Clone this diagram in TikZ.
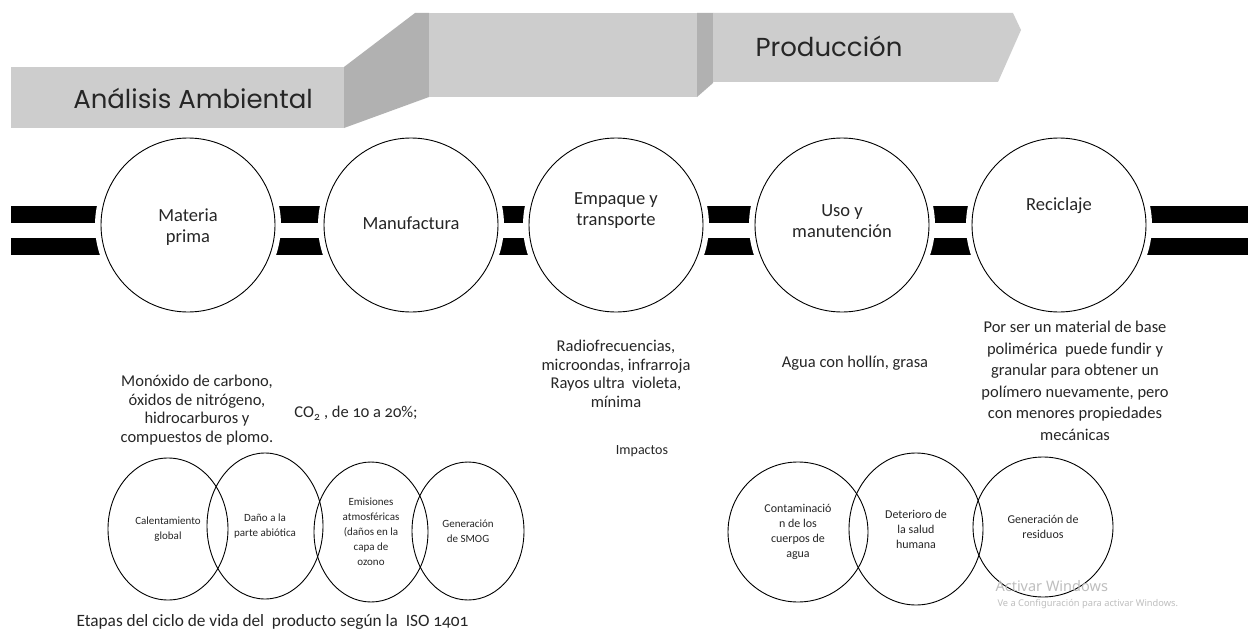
\documentclass[tikz,border=0pt]{standalone}
\usepackage{fontspec}
\setmainfont{Carlito}[Numbers=OldStyle]
\newfontfamily\headfont{Poppins}
\newfontfamily\winfont{Noto Sans}
\definecolor{Band}{HTML}{CDCDCD}
\definecolor{BandDark}{HTML}{B1B1B1}
\definecolor{Ink}{HTML}{262626}
\definecolor{Ghost}{HTML}{BEBEBE}
\usetikzlibrary{positioning,shapes.geometric,backgrounds,calc}

\begin{document}
\begin{tikzpicture}[x=1pt,y=-1pt,
  stage/.style={circle,draw=black,line width=.9pt,fill=white,minimum size=174pt,inner sep=0pt,
    preaction={draw=white,line width=12pt}},
  stagetxt/.style={align=center,text=Ink,font=\fontsize{18.5}{21}\selectfont},
  impact/.style={ellipse,draw=black,line width=.9pt,inner sep=0pt,align=center,text=Ink,
    font=\fontsize{11}{15}\selectfont},
  impactR/.style={impact,font=\fontsize{12}{15}\selectfont},
  note/.style={align=center,text=Ink,font=\fontsize{16.5}{18.5}\selectfont},
  head/.style={text=Ink,font=\headfont\fontsize{26}{29}\selectfont},
  band/.style={fill=Band},
  bandside/.style={fill=BandDark},
  bar/.style={fill=black},
  ghost/.style={anchor=west,text=Ghost}
]
\useasboundingbox (0,0) rectangle (1248,634);

% banner
\fill[band] (11,67) rectangle (344,128);
\fill[bandside] (344,67) -- (415,13) -- (429,13) -- (429,97) -- (344,128) -- cycle;
\fill[band] (429,13) rectangle (697,97);
\fill[bandside] (697,13) -- (713,13) -- (713,83) -- (697,97) -- cycle;
\fill[band] (713,13) -- (1013,13) -- (1021,30) -- (998,82) -- (713,82) -- cycle;
\node[head] (env) at (193,98) {Análisis Ambiental};
\node[head] (prod) at (829,46) {Producción};

% life cycle stages
\node[stage] (mat) at (188,225) {};
\node[stage] (man) at (411,225) {};
\node[stage] (emp) at (616,225) {};
\node[stage] (uso) at (842,225) {};
\node[stage] (rec) at (1059,225) {};
\coordinate (lend) at (11,225);
\coordinate (rend) at (1248,225);
\node[stagetxt] (mat-t) at ([yshift=-2pt]mat.center) {Materia\\prima};
\node[stagetxt] (man-t) at ([yshift=2pt]man.center) {Manufactura};
\node[stagetxt] (emp-t) at ([yshift=14pt]emp.center) {Empaque y\\transporte};
\node[stagetxt] (uso-t) at ([yshift=4pt]uso.center) {Uso y\\manutención};
\node[stagetxt] (rec-t) at ([yshift=19pt]rec.center) {Reciclaje};

\begin{scope}[on background layer]
\fill[white] (0,0) rectangle (1248,634);
\foreach \a/\b in {lend/mat,mat/man,man/emp,emp/uso,uso/rec,rec/rend}{
  \fill[bar] ([yshift=19pt]\a.center) rectangle ([yshift=2pt]\b.center);
  \fill[bar] ([yshift=-13pt]\a.center) rectangle ([yshift=-30pt]\b.center);
}
\end{scope}

% outputs of each stage
\node[note] (mono) at (197,410) {Monóxido de carbono,\\óxidos de nitrógeno,\\hidrocarburos y\\compuestos de plomo.};
\node[note] (co2) at (356,413) {CO\textsubscript{2} , de 10 a 20\%;};
\node[note] (radio) at (616,374) {Radiofrecuencias,\\microondas, infrarroja\\Rayos ultra~ violeta,\\mínima};
\node[note,font=\fontsize{14}{16}\selectfont] (imp) at (642,451) {Impactos};
\node[note] (hollin) at (855,363) {Agua con hollín, grasa};
\node[note,font=\fontsize{16.5}{21.5}\selectfont] (poli) at (1075,381) {Por ser un material de base\\polimérica~ puede fundir y\\granular para obtener un\\polímero nuevamente, pero\\con menores propiedades\\mecánicas};

% impacts
\node[impact,minimum width=120pt,minimum height=142pt] (cal) at (168,529) {Calentamiento\\global};
\node[impact,minimum width=116pt,minimum height=146pt] (abio) at (265,526) {Daño a la\\parte abiótica};
\node[impact,minimum width=114pt,minimum height=140pt] (emis) at (371,532) {Emisiones\\atmosféricas\\(daños en la\\capa de\\ozono};
\node[impact,minimum width=112pt,minimum height=138pt] (smog) at (468,531) {Generación\\de SMOG};
\node[impactR,minimum width=140pt,minimum height=140pt] (agua) at (798,532) {Contaminació\\n de los\\cuerpos de\\agua};
\node[impactR,minimum width=134pt,minimum height=152pt] (salud) at (916,529) {Deterioro de\\la salud\\humana};
\node[impactR,minimum width=140pt,minimum height=140pt] (resid) at (1043,527) {Generación de\\residuos};

\node[note,anchor=west,font=\fontsize{17.3}{19}\selectfont] (etapas) at (73,622) {Etapas del ciclo de vida del~ producto según la~ ISO 1401};
\node[ghost,font=\winfont\fontsize{14.5}{17}\selectfont] (win1) at (992,586) {Activar Windows};
\node[ghost,font=\winfont\fontsize{9.3}{11}\selectfont] (win2) at (994,604) {Ve a Configuración para activar Windows.};
\end{tikzpicture}
\end{document}
